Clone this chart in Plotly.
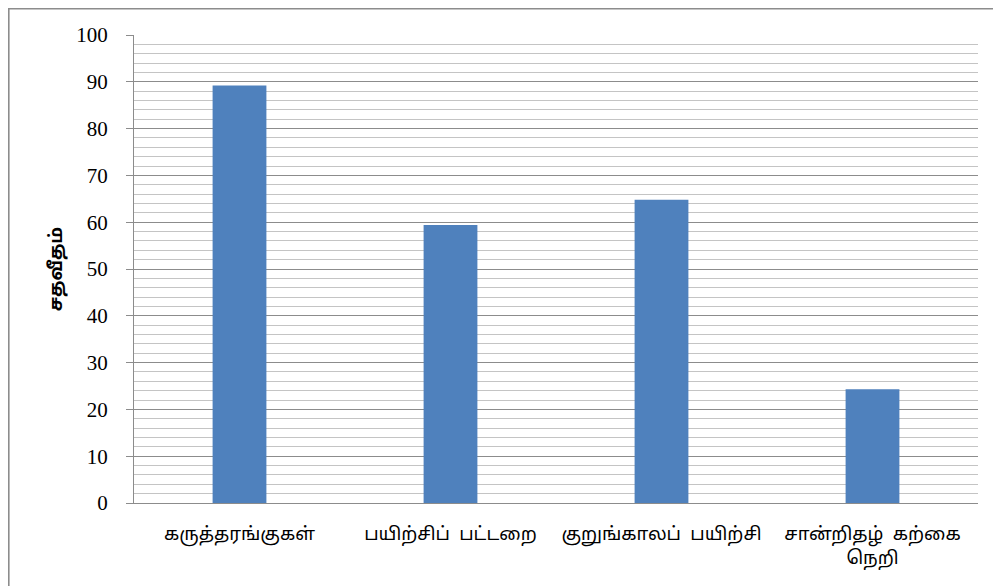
import plotly.graph_objects as go

NB = "\u00a0"
categories = ["கருத்தரங்குகள்", "பயிற்சிப்" + NB + NB + "பட்டறை", "குறுங்காலப்" + NB + NB + "பயிற்சி",
              "சான்றிதழ்" + NB + NB + "கற்கை<br>நெறி"]
values = [89.2, 59.4, 64.8, 24.3]
y_title = "சதவீதம்"
tick_vals = [0, 10, 20, 30, 40, 50, 60, 70, 80, 90, 100]

fig = go.Figure()
fig.add_trace(go.Bar(
    x=categories, y=values,
    marker=dict(color="#4F81BD", line=dict(color="#4F81BD", width=0)),
    width=0.255,
))

W, H = 993, 578
ml, mr, mt, mb = 126, 23, 27, 83
pw = W - ml - mr
ph = H - mt - mb

fig.update_layout(
    width=W, height=H,
    margin=dict(l=ml, r=mr, t=mt, b=mb, autoexpand=False),
    paper_bgcolor="white", plot_bgcolor="white",
    showlegend=False,
    font=dict(family="Liberation Serif, Noto Sans Tamil, serif", color="black"),
)
fig.update_yaxes(
    range=[0, 100], tickvals=tick_vals,
    showgrid=True, gridcolor="#8c8c8c", gridwidth=1.3,
    minor=dict(dtick=2, showgrid=True, gridcolor="#c4c4c4", gridwidth=1),
    showline=True, linecolor="#8c8c8c", linewidth=1.3,
    ticks="outside", ticklen=7, tickcolor="#8c8c8c",
    ticklabelstandoff=14,
    tickfont=dict(family="Liberation Serif", size=21, color="black"),
    title=dict(text="<b>" + y_title + "</b>", font=dict(size=18), standoff=8),
    zeroline=False, automargin=False,
)
fig.update_xaxes(
    showline=True, linecolor="#8c8c8c", linewidth=1.3,
    ticks="", tickfont=dict(size=18.5, color="black"),
    ticklabelstandoff=14, automargin=False,
    showgrid=False,
)
fig.add_shape(type="rect", xref="paper", yref="paper",
              x0=(0.8 - ml) / pw, x1=(1010 - ml) / pw,
              y0=(H - mb - 600) / ph, y1=(H - mb - 0.8) / ph,
              line=dict(color="#8c8c8c", width=1.6), fillcolor="rgba(0,0,0,0)", layer="above")

fig.write_html("out.html")
